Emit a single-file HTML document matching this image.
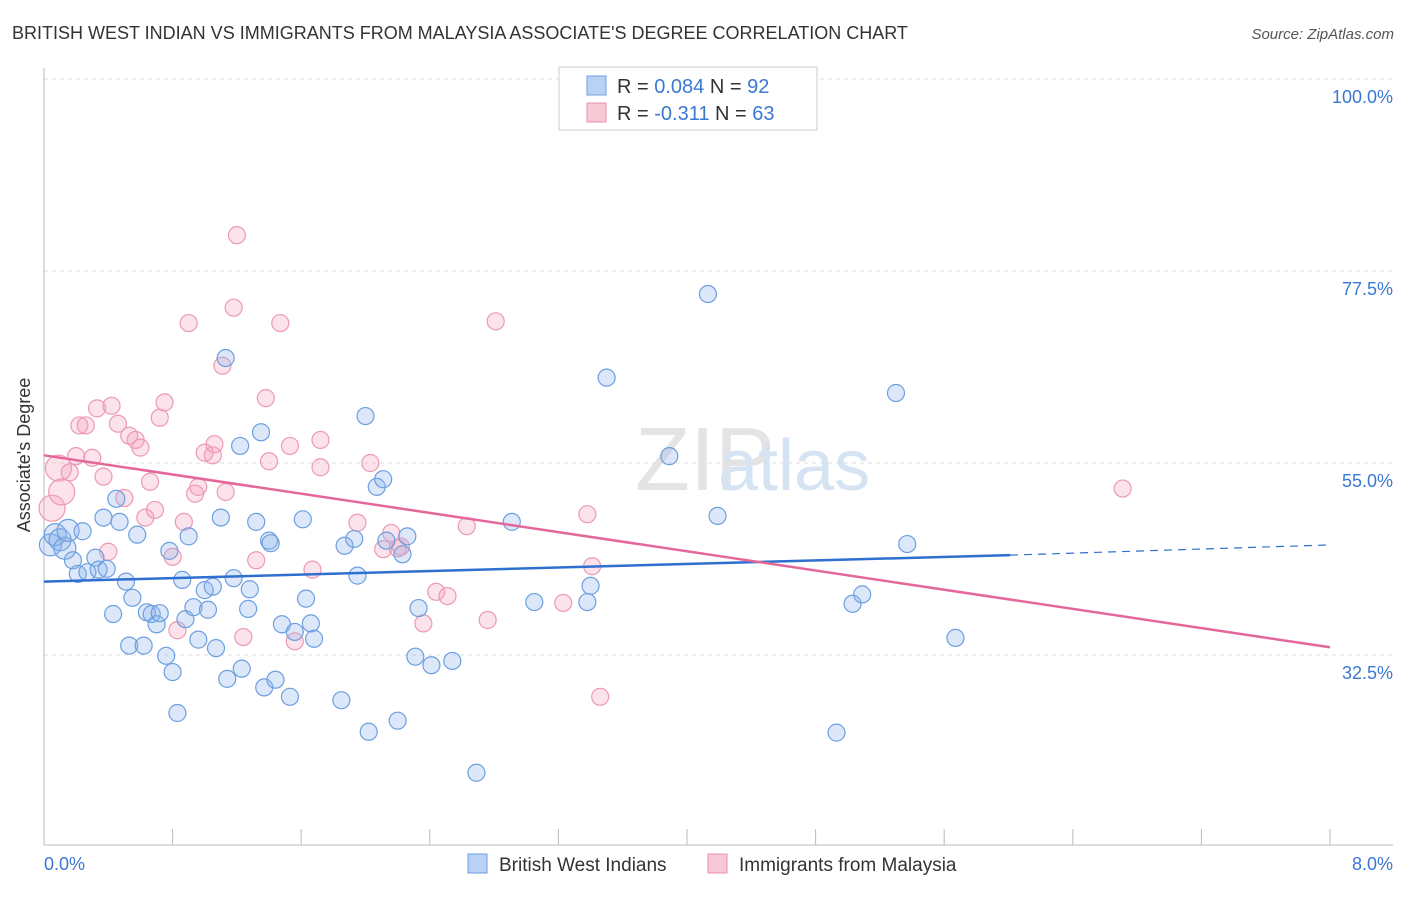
<!DOCTYPE html>
<html><head><meta charset="utf-8"><style>
body{margin:0;background:#fff;font-family:"Liberation Sans",sans-serif;}
svg text{font-family:"Liberation Sans",sans-serif;}
</style></head><body>
<svg id="chart" width="1406" height="892">
<text x="12" y="39" font-size="18" fill="#333">BRITISH WEST INDIAN VS IMMIGRANTS FROM MALAYSIA ASSOCIATE'S DEGREE CORRELATION CHART</text>
<text x="1394" y="39" font-size="15" fill="#555" font-style="italic" text-anchor="end">Source: ZipAtlas.com</text>
<text x="30" y="455" font-size="18" fill="#333" transform="rotate(-90 30 455)" text-anchor="middle">Associate's Degree</text>
<text x="635" y="490" font-size="90" fill="#e4e4e4" font-family="Liberation Serif">ZIP</text>
<text x="718" y="490" font-size="72" fill="#d6e3f3">atlas</text>
<g id="grid"></g><g id="pts"></g><g id="lines"></g>
<g>
<rect x="559" y="67" width="258" height="63" fill="#fff" stroke="#ccc"/>
<rect x="587" y="76" width="19" height="19" fill="#b9d2f3" stroke="#6e9ee0"/>
<rect x="587" y="103" width="19" height="19" fill="#f9c8d6" stroke="#e890ab"/>
<text x="617" y="93" font-size="20" fill="#333">R = <tspan fill="#3a78d4">0.084</tspan>    N = <tspan fill="#3a78d4">92</tspan></text>
<text x="617" y="120" font-size="20" fill="#333">R = <tspan fill="#3a78d4">-0.311</tspan>    N = <tspan fill="#3a78d4">63</tspan></text>
</g>
<g>
<rect x="468" y="854" width="19" height="19" fill="#b9d2f3" stroke="#6e9ee0"/>
<text x="499" y="871" font-size="19" fill="#333">British West Indians</text>
<rect x="708" y="854" width="19" height="19" fill="#f9c8d6" stroke="#e890ab"/>
<text x="739" y="871" font-size="19" fill="#333">Immigrants from Malaysia</text>
</g>
</svg>
<script>
const yTicks=[100,77.5,55,32.5];
const xTickLabels=["0.0%","8.0%"];
const blueX=[0.04,0.07,0.10,0.13,0.15,0.18,0.21,0.24,0.27,0.32,0.34,0.37,0.39,0.43,0.45,0.47,0.51,0.53,0.55,0.58,0.62,0.64,0.67,0.70,0.72,0.76,0.78,0.80,0.83,0.86,0.88,0.90,0.93,0.96,1.00,1.02,1.05,1.07,1.10,1.13,1.14,1.18,1.22,1.23,1.27,1.28,1.32,1.35,1.37,1.40,1.41,1.44,1.48,1.53,1.56,1.61,1.63,1.66,1.68,1.85,1.87,1.93,1.95,2.00,2.02,2.07,2.11,2.13,2.20,2.23,2.26,2.31,2.33,2.41,2.54,2.69,2.91,3.05,3.38,3.40,3.50,3.89,4.13,4.19,4.93,5.03,5.09,5.30,5.37,5.67];
const blueY=[45.4,46.6,46.0,45.0,47.1,43.6,42.0,47.0,42.2,43.9,42.5,48.6,42.6,37.3,50.8,48.1,41.1,33.6,39.2,46.6,33.6,37.5,37.3,36.1,37.4,32.4,44.7,30.5,25.7,41.3,36.7,46.4,38.1,34.3,40.1,37.8,40.5,33.3,48.6,67.3,29.7,41.5,57.0,30.9,37.9,40.2,48.1,58.6,28.7,45.9,45.6,29.6,36.1,27.6,35.2,48.4,39.1,36.2,34.4,27.2,45.3,46.1,41.8,60.5,23.5,52.2,53.1,45.9,24.8,44.3,46.4,32.3,38.0,31.3,31.8,18.7,48.1,38.7,38.7,40.6,65.0,55.8,74.8,48.8,23.4,38.5,39.6,63.2,45.5,34.5];
const pinkX=[0.05,0.09,0.11,0.16,0.20,0.22,0.26,0.30,0.33,0.37,0.40,0.42,0.46,0.50,0.53,0.57,0.60,0.63,0.66,0.69,0.72,0.75,0.80,0.83,0.87,0.90,0.94,0.96,1.00,1.05,1.06,1.11,1.13,1.18,1.20,1.24,1.32,1.38,1.40,1.47,1.53,1.56,1.67,1.72,1.72,1.95,2.03,2.11,2.16,2.20,2.22,2.36,2.44,2.51,2.63,2.76,2.81,3.23,3.38,3.41,3.46,6.71];
const pinkY=[49.7,54.4,51.6,53.9,55.8,59.4,59.4,55.6,61.4,53.4,44.6,61.7,59.6,50.9,58.2,57.7,56.8,48.6,52.8,49.5,60.3,62.1,44.0,35.4,48.1,71.4,51.4,52.2,56.2,55.9,57.2,66.4,51.6,73.2,81.7,34.6,43.6,62.6,55.2,71.4,57.0,34.1,42.5,54.5,57.7,48.0,55.0,44.9,46.8,45.0,45.2,36.2,39.9,39.4,47.6,36.6,71.6,38.6,49.0,42.9,27.6,52.0];
const blueTrend=[41.1,44.2,45.4]; // at x=0, x=6.01, x=8
const pinkTrend=[55.9,33.4];
const NS="http://www.w3.org/2000/svg";
const X=v=>44+v*160.75, Y=v=>79+(100-v)*8.533;
function mk(t,a,p){const e=document.createElementNS(NS,t);for(const k in a)e.setAttribute(k,a[k]);p.appendChild(e);return e;}
const g=document.getElementById('grid');
yTicks.forEach(t=>{const l=mk('line',{x1:44,x2:1393,y1:Y(t),y2:Y(t),stroke:'#ddd','stroke-dasharray':'4,4'},g);


const tx=mk('text',{x:1393,y:Y(t)+24,'font-size':18,fill:'#3a78d4','text-anchor':'end'},g);tx.textContent=t.toFixed(1)+'%';

});
mk('line',{x1:44,x2:44,y1:68,y2:845,stroke:'#bbb'},g);
mk('line',{x1:44,x2:1393,y1:845,y2:845,stroke:'#bbb'},g);
for(let i=0;i<=10;i++){mk('line',{x1:X(i*0.8),x2:X(i*0.8),y1:829,y2:845,stroke:'#bbb'},g);}
const xl1=mk('text',{x:44,y:870,'font-size':18,fill:'#3a78d4'},g);xl1.textContent=xTickLabels[0];


const xl2=mk('text',{x:1393,y:870,'font-size':18,fill:'#3a78d4','text-anchor':'end'},g);xl2.textContent=xTickLabels[1];


const P=document.getElementById('pts');
pinkX.forEach((x,i)=>{const r=i<3?13:8.5;const c=mk('circle',{cx:X(x),cy:Y(pinkY[i]),r:r,fill:'rgba(244,160,186,0.3)',stroke:'#ec9ab3','stroke-width':1.2},P);

});
blueX.forEach((x,i)=>{const r=i<5?11:8.5;const c=mk('circle',{cx:X(x),cy:Y(blueY[i]),r:r,fill:'rgba(140,180,235,0.3)',stroke:'#6c9fe0','stroke-width':1.2},P);

});
const L=document.getElementById('lines');
const b1=mk('line',{x1:X(0),y1:Y(blueTrend[0]),x2:X(6.01),y2:Y(blueTrend[1]),stroke:'#2f6fd0','stroke-width':2.5},L);


const b2=mk('line',{x1:X(6.01),y1:Y(blueTrend[1]),x2:X(8),y2:Y(blueTrend[2]),stroke:'#2f6fd0','stroke-width':1.2,'stroke-dasharray':'8,6'},L);


const p1=mk('line',{x1:X(0),y1:Y(pinkTrend[0]),x2:X(8),y2:Y(pinkTrend[1]),stroke:'#e5679a','stroke-width':2.5},L);


</script>
</body></html>
